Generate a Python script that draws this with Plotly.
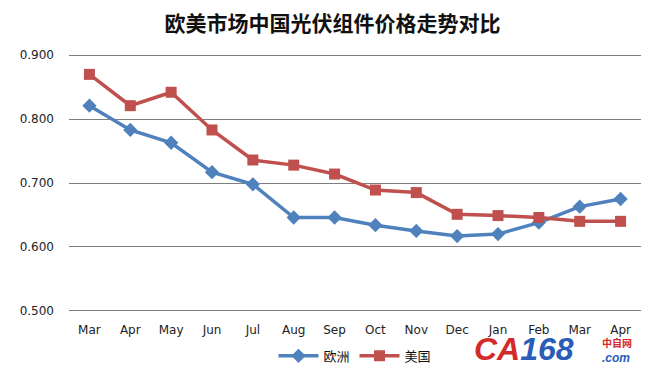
import plotly.graph_objects as go

months = ["Mar", "Apr", "May", "Jun", "Jul", "Aug", "Sep", "Oct", "Nov", "Dec", "Jan", "Feb", "Mar", "Apr"]
europe = [0.821, 0.783, 0.763, 0.717, 0.698, 0.646, 0.646, 0.634, 0.625, 0.617, 0.620, 0.638, 0.663, 0.675]
usa = [0.870, 0.821, 0.842, 0.783, 0.736, 0.728, 0.714, 0.689, 0.685, 0.651, 0.649, 0.646, 0.640, 0.640]
y_ticks = [0.5, 0.6, 0.7, 0.8, 0.9]
x = list(range(len(months)))

fig = go.Figure()
fig.add_trace(go.Scatter(x=x, y=europe, name="欧洲", mode="lines+markers",
                         line=dict(color="#4F81BD", width=3.5),
                         marker=dict(symbol="diamond", size=11, color="#4F81BD")))
fig.add_trace(go.Scatter(x=x, y=usa, name="美国", mode="lines+markers",
                         line=dict(color="#C0504D", width=3.5),
                         marker=dict(symbol="square", size=11, color="#C0504D")))

fig.update_layout(
    width=649, height=375,
    margin=dict(l=58, r=16, t=44, b=62),
    paper_bgcolor="white", plot_bgcolor="white",
    font=dict(family="DejaVu Sans, Liberation Sans, sans-serif", size=12, color="#222"),
    title=dict(text="<b>欧美市场中国光伏组件价格走势对比</b>", x=0.5, xanchor="center",
               y=0.957, yanchor="middle",
               font=dict(family="Noto Sans CJK SC", size=21, color="#111")),
    xaxis=dict(range=[-0.5, len(months) - 0.5], tickmode="array", tickvals=x, ticktext=months,
               showgrid=False, zeroline=False, showline=False, ticks="", ticklen=0,
               ticklabelstandoff=7),
    yaxis=dict(range=[0.495, 0.905], tickmode="array",
               tickvals=y_ticks, tickformat=".3f", showgrid=True,
               gridcolor="#7F7F7F", gridwidth=1.3,
               zeroline=False, showline=False,
               ticks="", ticklabelstandoff=14),
    legend=dict(orientation="h", x=0.5, xanchor="center", y=-0.16, yanchor="middle",
                font=dict(family="Noto Sans CJK SC", size=13, color="#111"),
                itemwidth=40),
    showlegend=True,
)

fig.add_annotation(xref="paper", yref="paper", x=0.705, y=-0.135, xanchor="left", yanchor="middle",
                   text="<i><b><span style='color:#D42A2A'>CA</span><span style='color:#2A5CB8'>168</span></b></i>",
                   showarrow=False,
                   font=dict(family="Liberation Sans", size=32))
fig.add_annotation(xref="paper", yref="paper", x=0.958, y=-0.11, xanchor="center", yanchor="middle",
                   text="<b>中自网</b>", showarrow=False,
                   font=dict(family="Noto Sans CJK SC", size=10, color="#D42A2A"))
fig.add_annotation(xref="paper", yref="paper", x=0.956, y=-0.168, xanchor="center", yanchor="middle",
                   text="<i><b>.com</b></i>", showarrow=False,
                   font=dict(family="Liberation Sans", size=12, color="#2A5CB8"))

fig.write_html("out.html")
